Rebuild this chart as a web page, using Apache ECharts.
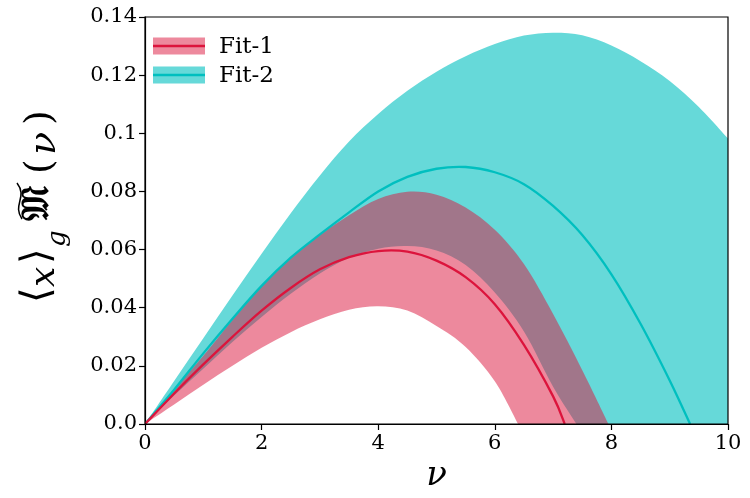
<!DOCTYPE html>
<html>
<head>
<meta charset="utf-8">
<script src="https://cdn.jsdelivr.net/npm/echarts@6/dist/echarts.min.js"></script>
<style>
html,body{margin:0;padding:0;background:#fff;}
#chart{width:750px;height:498px;}
</style>
</head>
<body>
<div id="chart"></div>
<script>
// ---- Data ----
// Fit-1 uncertainty band
const nuFit1Lower = [0, 0.5, 1, 1.5, 2, 2.5, 3, 3.5, 4, 4.5, 5, 5.5, 6, 6.4];
const fit1Lower   = [0, 0.0067, 0.0135, 0.0200, 0.0262, 0.0316, 0.0360, 0.0393, 0.0405, 0.0390, 0.0337, 0.0265, 0.0147, 0];
const nuFit1Upper = [0, 0.5, 1, 1.5, 2, 2.5, 3, 3.5, 4, 4.5, 5, 5.5, 6, 6.5, 7, 7.5, 7.95];
const fit1Upper   = [0, 0.0118, 0.0235, 0.0358, 0.0475, 0.0572, 0.0650, 0.0718, 0.0774, 0.0799, 0.0789, 0.0745, 0.0668, 0.0550, 0.0378, 0.0185, 0];
// Fit-2 uncertainty band
const nuFit2Lower = [0, 0.5, 1, 1.5, 2, 2.5, 3, 3.5, 4, 4.5, 5, 5.5, 6, 6.5, 7, 7.4];
const fit2Lower   = [0, 0.0098, 0.0190, 0.0282, 0.0368, 0.0448, 0.0518, 0.0572, 0.0603, 0.0612, 0.0597, 0.0547, 0.0452, 0.0318, 0.0128, 0];
const nuFit2Upper = [0, 0.5, 1, 1.5, 2, 2.5, 3, 3.5, 4, 4.5, 5, 5.5, 6, 6.5, 7, 7.5, 8, 8.5, 9, 9.5, 10];
const fit2Upper   = [0, 0.0148, 0.0295, 0.0442, 0.0586, 0.0725, 0.0855, 0.0972, 0.1066, 0.1146, 0.1212, 0.1265, 0.1307, 0.1336, 0.1346, 0.1337, 0.1302, 0.1248, 0.1180, 0.1090, 0.0982];
// Central curves
const nuFit1 = [0, 0.5, 1, 1.5, 2, 2.5, 3, 3.5, 4, 4.5, 5, 5.5, 6, 6.5, 7, 7.2];
const fit1   = [0, 0.0105, 0.0205, 0.0300, 0.0390, 0.0468, 0.0532, 0.0574, 0.0595, 0.0593, 0.0562, 0.0505, 0.0412, 0.0272, 0.0095, 0];
const nuFit2 = [0, 0.5, 1, 1.5, 2, 2.5, 3, 3.5, 4, 4.5, 5, 5.5, 6, 6.5, 7, 7.5, 8, 8.5, 9, 9.35];
const fit2   = [0, 0.0118, 0.0243, 0.0362, 0.0475, 0.0572, 0.0652, 0.0728, 0.0800, 0.0850, 0.0878, 0.0884, 0.0866, 0.0825, 0.0750, 0.0650, 0.0515, 0.0345, 0.0150, 0];

const seriesNames = ['Fit-1', 'Fit-2'];
const xTicks = [0, 2, 4, 6, 8, 10];

// ---- Styles ----
const RED = '#dc143c';
const CYAN = 'rgb(0,191,191)';
const RED_FILL = 'rgba(220,20,60,0.5)';
const CYAN_FILL = 'rgba(0,191,191,0.6)';

// Catmull-Rom smoothed path through pixel points (rendering only)
function crPath(pts, moveFirst) {
  let d = (moveFirst ? 'M' : 'L') + pts[0][0] + ',' + pts[0][1];
  for (let i = 0; i < pts.length - 1; i++) {
    const p0 = pts[Math.max(i - 1, 0)], p1 = pts[i], p2 = pts[i + 1], p3 = pts[Math.min(i + 2, pts.length - 1)];
    const c1x = p1[0] + (p2[0] - p0[0]) / 6, c1y = p1[1] + (p2[1] - p0[1]) / 6;
    const c2x = p2[0] - (p3[0] - p1[0]) / 6, c2y = p2[1] - (p3[1] - p1[1]) / 6;
    d += 'C' + c1x + ',' + c1y + ' ' + c2x + ',' + c2y + ' ' + p2[0] + ',' + p2[1];
  }
  return d;
}

function bandSeries(name, nuU, up, nuL, lo, fill) {
  return {
    type: 'custom', name: name, clip: true, silent: true,
    data: [[0, 0]],
    renderItem: function (params, api) {
      const top = nuU.map((x, i) => api.coord([x, up[i]]));
      const bot = nuL.map((x, i) => api.coord([x, lo[i]])).reverse();
      const y0 = api.coord([0, 0])[1];
      const tEnd = top[top.length - 1];
      const d = crPath(top, true) + 'L' + tEnd[0] + ',' + y0 + 'L' + bot[0][0] + ',' + y0 + crPath(bot, false) + 'Z';
      return { type: 'path', shape: { pathData: d }, style: { fill: fill, stroke: null } };
    }
  };
}

function lineSeries(name, xs, ys, color, z) {
  return {
    type: 'custom', name: name, clip: true, silent: true, z: z,
    data: [[0, 0]],
    renderItem: function (params, api) {
      const pts = xs.map((x, i) => api.coord([x, ys[i]]));
      return { type: 'path', shape: { pathData: crPath(pts, true) },
        style: { fill: null, stroke: color, lineWidth: 2.3 } };
    }
  };
}

// Legend (patch + line + text)
const legendY = [46, 75];
const legendColors = [[RED_FILL, RED], [CYAN_FILL, CYAN]];
const graphics = [];
seriesNames.forEach((n, i) => {
  graphics.push({ type: 'rect', shape: { x: 153, y: legendY[i] - 8.5, width: 52, height: 17 },
    style: { fill: legendColors[i][0] }, z: 100 });
  graphics.push({ type: 'line', shape: { x1: 153, y1: legendY[i], x2: 205, y2: legendY[i] },
    style: { stroke: legendColors[i][1], lineWidth: 2.5 }, z: 101 });
  graphics.push({ type: 'text', x: 219, y: legendY[i] + 1,
    style: { text: n, font: "23px 'DejaVu Serif'", fill: '#000', verticalAlign: 'middle', align: 'left' }, z: 101 });
});

// Y-axis title  <x>_g M~(nu), rotated
const yTitle = {
  type: 'group', x: 55, y: 305, rotation: Math.PI / 2, z: 101,
  children: [
    { type: 'text', x: 2, y: -16, style: { text: '⟨', font: "40px 'DejaVu Sans'", fill: '#000', verticalAlign: 'middle' } },
    { type: 'text', x: 18, y: -10, style: { text: 'x', font: "italic 36px 'DejaVu Serif'", fill: '#000', verticalAlign: 'middle' } },
    { type: 'text', x: 41, y: -16, style: { text: '⟩', font: "40px 'DejaVu Sans'", fill: '#000', verticalAlign: 'middle' } },
    { type: 'text', x: 58, y: 3, style: { text: 'g', font: "italic 26px 'DejaVu Serif'", fill: '#000', verticalAlign: 'middle' } },
    { type: 'text', x: 84, y: -17, style: { text: '𝔐', font: "bold 38px 'DejaVu Sans'", fill: '#000', verticalAlign: 'middle' } },
    { type: 'bezierCurve', shape: { x1: 86, y1: -33, cpx1: 100, cpy1: -43, cpx2: 108, cpy2: -27, x2: 122, y2: -38 },
      style: { stroke: '#000', lineWidth: 1.5, fill: null } },
    { type: 'text', x: 131, y: -14, style: { text: '(', font: "38px 'DejaVu Serif'", fill: '#000', verticalAlign: 'middle' } },
    { type: 'text', x: 150, y: -10, style: { text: 'ν', font: "italic 38px 'DejaVu Serif'", fill: '#000', verticalAlign: 'middle' } },
    { type: 'text', x: 180, y: -14, style: { text: ')', font: "38px 'DejaVu Serif'", fill: '#000', verticalAlign: 'middle' } }
  ]
};
graphics.push(yTitle);

const chart = echarts.init(document.getElementById('chart'), null, { renderer: 'canvas' });

const option = {
  animation: false,
  backgroundColor: '#fff',
  grid: { left: 145, right: 22, top: 17, bottom: 74, show: true, borderColor: '#000', borderWidth: 1.2, backgroundColor: 'transparent', z: 10 },
  xAxis: {
    type: 'value', min: 0, max: 10, interval: 2,
    axisLine: { show: true, lineStyle: { color: '#000', width: 1.2 } },
    axisTick: { show: true, inside: false, length: 6, lineStyle: { color: '#000', width: 1.2 } },
    splitLine: { show: false },
    axisLabel: { color: '#000', fontFamily: 'DejaVu Serif', fontSize: 21, margin: 9,
      formatter: v => (xTicks.indexOf(v) >= 0 ? String(v) : '') },
    name: 'ν', nameLocation: 'middle', nameGap: 23,
    nameTextStyle: { fontFamily: 'DejaVu Serif', fontStyle: 'italic', fontSize: 34, color: '#000' }
  },
  yAxis: {
    type: 'value', min: 0, max: 0.14, interval: 0.02,
    axisLine: { show: true, lineStyle: { color: '#000', width: 1.2 } },
    axisTick: { show: true, inside: false, length: 6, lineStyle: { color: '#000', width: 1.2 } },
    splitLine: { show: false },
    axisLabel: { color: '#000', fontFamily: 'DejaVu Serif', fontSize: 21, margin: 8,
      formatter: v => (v === 0 ? '0.0' : String(+v.toFixed(2))) }
  },
  graphic: graphics,
  series: [
    bandSeries('Fit-2 band', nuFit2Upper, fit2Upper, nuFit2Lower, fit2Lower, CYAN_FILL),
    bandSeries('Fit-1 band', nuFit1Upper, fit1Upper, nuFit1Lower, fit1Lower, RED_FILL),
    lineSeries('Fit-2', nuFit2, fit2, CYAN, 3),
    lineSeries('Fit-1', nuFit1, fit1, RED, 4)
  ]
};
chart.setOption(option);
</script>
</body>
</html>
